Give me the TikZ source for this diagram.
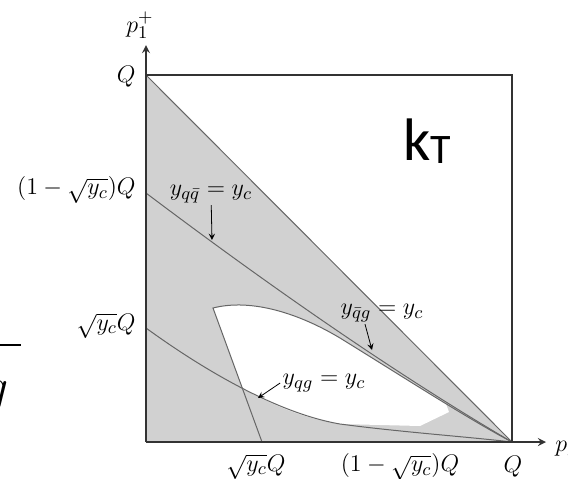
\documentclass[tikz,border=0pt]{standalone}
\usepackage{fontspec}
\newfontfamily\ktfont{Carlito}

\begin{document}
\begin{tikzpicture}[x=0.5pt, y=-0.5pt, >=stealth,
    every node/.style={font=\fontsize{12.5}{14}\selectfont, inner sep=1pt},
    bound/.style={draw=black!60, line width=0.5pt},
    frame/.style={draw=black!80, line width=0.8pt}]
      \useasboundingbox (0,0) rectangle (568,478);
      \clip (0,0) rectangle (568,478);

      \coordinate (O) at (146,442);
      \coordinate (Qv) at (146,75);
      \coordinate (Qh) at (512,442);
      \coordinate (C) at (512,75);
      \coordinate (vtip) at (146,45);
      \coordinate (htip) at (546,442);

      \fill[black!18] (Qv) -- (O) -- (Qh) -- cycle;
      \fill[white] (213,308) .. controls (252,298) and (300,314) .. (340,338) -- (446,404) -- (449,412)
        -- (420,426) -- (340,424) .. controls (300,418) and (268,402) .. (243,389) -- cycle;

      \draw[bound] (Qv) -- (Qh);
      \draw[bound] (146,193) .. controls (284,297) and (406,380) .. (Qh);
      \draw[bound] (262,442) -- (213,308) .. controls (252,298) and (300,314) .. (340,338)
        .. controls (400,375) and (470,420) .. (Qh);
      \draw[bound] (146,328) .. controls (190,360) and (270,412) .. (340,424)
        .. controls (400,432) and (470,437) .. (Qh);

      \draw[frame] (Qv) -- (C) -- (Qh);
      \draw[frame,->] (O) -- (vtip);
      \draw[frame,->] (O) -- (htip);

      \node (pv) at (140,25) {$p_1^+$};
      \node[anchor=west] (ph) at (553,444) {$p_3^+$};
      \node[anchor=east] (lQ) at (138,77) {$Q$};
      \node[anchor=east] (lone) at (138,190) {$(1-\sqrt{y_c})Q$};
      \node[anchor=east] (lsq) at (138,326) {$\sqrt{y_c}Q$};
      \node (bsq) at (256,467) {$\sqrt{y_c}Q$};
      \node (bone) at (400,467) {$(1-\sqrt{y_c})Q$};
      \node (bQ) at (513,467) {$Q$};

      \node (lqq) at (211,194) {$y_{q\bar q}=y_c$};
      \node (lqbg) at (382,313) {$y_{\bar q g}=y_c$};
      \node (lqg) at (324,383) {$y_{qg}=y_c$};
      \coordinate (aqq) at (212,240);
      \coordinate (aqbg) at (372,350);
      \coordinate (aqg) at (258,398);
      \draw[->] (lqq) -- (aqq);
      \draw[->] ([xshift=-8.5pt]lqbg.south) -- (aqbg);
      \draw[->] (lqg.west) -- (aqg);

      \node[anchor=base west, inner sep=0pt, font=\ktfont\fontsize{30}{32}\selectfont] (kt) at (403,160)
        {k\raisebox{-1.5pt}{\fontsize{21}{22}\selectfont T}};

      \coordinate (barl) at (0,345);
      \coordinate (barr) at (21,345);
      \draw[line width=1pt] (barl) -- (barr);
      \node[anchor=base east, inner sep=0pt, font=\fontsize{26}{28}\selectfont] (gpart) at (9,402) {$g$};
    \end{tikzpicture}
\end{document}
